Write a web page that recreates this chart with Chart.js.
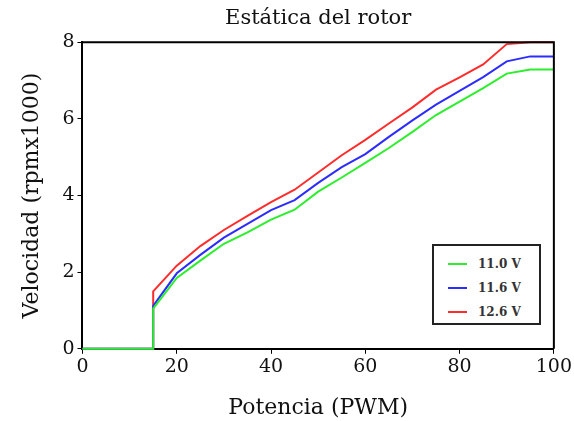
<!DOCTYPE html>
<html>
<head>
<meta charset="utf-8">
<script src="https://cdn.jsdelivr.net/npm/chart.js@4"></script>
<style>
    html, body { margin: 0; padding: 0; background: #fff; }
    #wrap { position: relative; width: 574px; height: 421px; }
    #legend {
        position: absolute; left: 432px; top: 244px; width: 109px; height: 81px;
        border: 2px solid #222; background: #fff; box-sizing: border-box;
        font: bold 12px "DejaVu Serif", serif; color: #333;
        padding-top: 6px;
    }
    .item { display: flex; align-items: center; height: 24px; }
    .swatch { width: 19px; height: 2px; margin-left: 14px; margin-right: 11px; }
</style>
</head>
<body>
<div id="wrap">
    <canvas id="chart" width="574" height="421"></canvas>
    <div id="legend"></div>
</div>
<script>
// Data
const pwm = [0, 15, 15, 20, 25, 30, 35, 40, 45, 50, 55, 60, 65, 70, 75, 80, 85, 90, 95, 100];
const v110 = [0, 0, 1.05, 1.85, 2.3, 2.74, 3.04, 3.37, 3.63, 4.1, 4.47, 4.85, 5.24, 5.66, 6.1, 6.45, 6.8, 7.18, 7.29, 7.29];
const v116 = [0, 0, 1.12, 1.97, 2.45, 2.9, 3.26, 3.62, 3.88, 4.33, 4.74, 5.08, 5.53, 5.96, 6.37, 6.73, 7.09, 7.5, 7.63, 7.63];
const v126 = [0, 0, 1.5, 2.17, 2.68, 3.1, 3.47, 3.83, 4.15, 4.6, 5.05, 5.45, 5.88, 6.3, 6.76, 7.08, 7.42, 7.95, 8.0, 8.0];
const seriesLabels = ['11.0 V', '11.6 V', '12.6 V'];
const seriesColors = ['#2cee2c', '#2c2cff', '#ff2c2c'];
const xTicks = [0, 20, 40, 60, 80, 100];
const yTicks = [0, 2, 4, 6, 8];

const serif = '"DejaVu Serif", "Liberation Serif", serif';

function toPoints(ys) {
    return ys.map((y, i) => ({ x: pwm[i], y: y }));
}

// draws the top and right sides of the box around the plot
const frameBox = {
    id: 'frameBox',
    afterDatasetsDraw(chart) {
        const a = chart.chartArea;
        const ctx = chart.ctx;
        ctx.save();
        ctx.strokeStyle = '#000';
        ctx.lineWidth = 2;
        ctx.beginPath();
        ctx.moveTo(a.left, a.top);
        ctx.lineTo(a.right, a.top);
        ctx.lineTo(a.right, a.bottom);
        ctx.stroke();
        ctx.restore();
    }
};

const datasets = [v110, v116, v126].map((vals, i) => ({
    label: seriesLabels[i],
    data: toPoints(vals),
    borderColor: seriesColors[i],
    backgroundColor: seriesColors[i],
    borderWidth: 2,
    pointRadius: 0,
    tension: 0,
    clip: false
}));

new Chart(document.getElementById('chart'), {
    type: 'line',
    data: { datasets: datasets },
    options: {
        responsive: false,
        animation: false,
        layout: { padding: { left: 19, right: 19, top: 0, bottom: 0 } },
        plugins: {
            legend: { display: false },
            tooltip: { enabled: false },
            title: {
                display: true,
                fullSize: false,
                text: 'Estática del rotor',
                color: '#111',
                font: { family: serif, size: 21, weight: 'normal' },
                padding: { top: 6, bottom: 11 }
            }
        },
        scales: {
            x: {
                type: 'linear',
                min: 0,
                max: 100,
                afterBuildTicks: s => { s.ticks = xTicks.map(v => ({ value: v })); },
                ticks: { color: '#111', font: { family: serif, size: 19 }, padding: 2 },
                grid: { drawOnChartArea: false, tickLength: 5, color: '#000', lineWidth: 1 },
                border: { color: '#000', width: 2 },
                title: {
                    display: true,
                    text: 'Potencia (PWM)',
                    color: '#111',
                    font: { family: serif, size: 22 },
                    padding: { top: 14, bottom: 0 }
                }
            },
            y: {
                min: 0,
                max: 8,
                afterBuildTicks: s => { s.ticks = yTicks.map(v => ({ value: v })); },
                ticks: { color: '#111', font: { family: serif, size: 19 }, padding: 3 },
                grid: { drawOnChartArea: false, tickLength: 5, color: '#000', lineWidth: 1 },
                border: { color: '#000', width: 2 },
                title: {
                    display: true,
                    text: 'Velocidad (rpmx1000)',
                    color: '#111',
                    font: { family: serif, size: 22 },
                    padding: { top: 0, bottom: 14 }
                }
            }
        }
    },
    plugins: [frameBox]
});

// HTML legend inside the plot
const legend = document.getElementById('legend');
seriesLabels.forEach((label, i) => {
    const row = document.createElement('div');
    row.className = 'item';
    row.innerHTML = `<span class="swatch" style="background:${seriesColors[i]}"></span><span>${label}</span>`;
    legend.appendChild(row);
});
</script>
</body>
</html>
